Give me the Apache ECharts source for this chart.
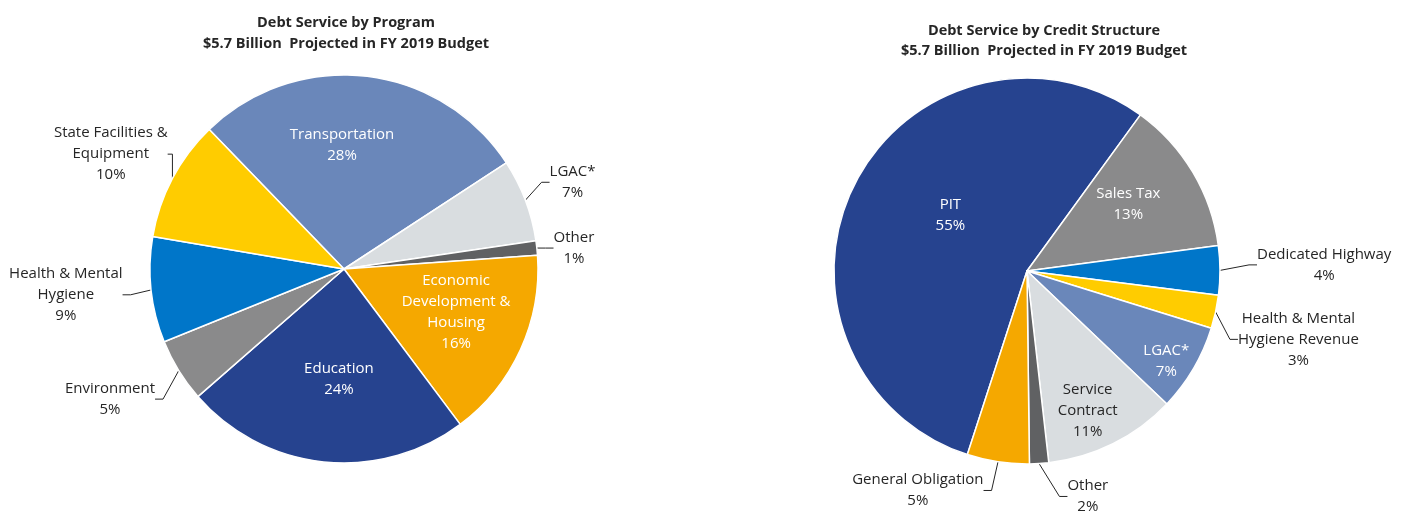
<!DOCTYPE html>
<html>
<head>
<meta charset="utf-8">
<script src="https://cdn.jsdelivr.net/npm/echarts@6/dist/echarts.min.js"></script>
<style>
  html, body { margin: 0; padding: 0; background: #fff; }
  #chart { width: 1408px; height: 514px; }
</style>
</head>
<body>
<div id="chart"></div>
<script>
// share of debt service, percent
const programNames = ['Transportation', 'LGAC*', 'Other', 'Economic\nDevelopment &\nHousing', 'Education', 'Environment', 'Health & Mental\nHygiene', 'State Facilities &\nEquipment'];
const programValues = [28.0, 6.9, 1.2, 15.9, 23.8, 5.3, 8.8, 10.1];
const programColors = ['#6a87ba', '#d9dde0', '#606163', '#f5a800', '#26438f', '#8a8a8b', '#0076c9', '#ffcc00'];
const programInside = [true, false, false, true, true, false, false, false];

const creditNames = ['PIT', 'Sales Tax', 'Dedicated Highway', 'Health & Mental\nHygiene Revenue', 'LGAC*', 'Service\nContract', 'Other', 'General Obligation'];
const creditValues = [55.0, 12.9, 4.1, 2.8, 7.3, 11.1, 1.6, 5.2];
const creditColors = ['#26438f', '#8a8a8b', '#0076c9', '#ffcc00', '#6a87ba', '#d9dde0', '#606163', '#f5a800'];
const creditInside = [true, true, false, false, true, true, false, false];

// label placement: distance from centre (x radius) and turn from the slice middle (deg)
const programLabelR = [0.64, 1.26, 1.19, 0.62, 0.57, 1.38, 1.44, 1.34];
const programLabelTurn = [7.3, 0, -1, 3.3, 3.4, -2.5, -0.9, 1.6];
const creditLabelR = [0.49, 0.63, 1.54, 1.45, 0.86, 0.79, 1.21, 1.27];
const creditLabelTurn = [-8.9, 2.8, 1, -1.9, -2.5, -3, 11.5, -17.8];

const FONT = '"Open Sans", Lato, sans-serif';
const TEXT = '#262626';

function labelPlacer(values, start, cx, cy, r, radii, turns) {
  const total = values.reduce((a, b) => a + b, 0);
  const mids = [];
  let a = start;
  values.forEach(v => {
    const span = v / total * 360;
    mids.push(a - span / 2);
    a -= span;
  });
  return function (p) {
    const i = p.dataIndex;
    const ang = (mids[i] + turns[i]) * Math.PI / 180;
    const d = radii[i] * r;
    return {
      x: cx + d * Math.cos(ang),
      y: cy - d * Math.sin(ang),
      align: 'center',
      verticalAlign: 'middle'
    };
  };
}

function buildData(names, values, colors, inside, darkInside) {
  return names.map((n, i) => ({
    name: n,
    value: values[i],
    itemStyle: { color: colors[i] },
    label: { color: inside[i] && !darkInside[i] ? '#fff' : TEXT },
    labelLine: { show: !inside[i] }
  }));
}

function pieSeries(data, cx, cy, r, start, radii, turns) {
  return {
    type: 'pie',
    center: [cx, cy],
    radius: [0, r],
    startAngle: start,
    clockwise: true,
    avoidLabelOverlap: false,
    percentPrecision: 0,
    animation: false,
    itemStyle: { borderColor: '#fff', borderWidth: 1.5 },
    label: {
      show: true,
      position: 'outside',
      formatter: '{b}\n{d}%',
      fontFamily: FONT,
      fontSize: 15,
      lineHeight: 21,
      align: 'center'
    },
    labelLine: {
      length: 10,
      length2: 8,
      smooth: false,
      lineStyle: { color: TEXT, width: 1 }
    },
    emphasis: { disabled: true },
    labelLayout: labelPlacer(data.map(d => d.value), start, cx, cy, r, radii, turns),
    data: data
  };
}

const chart = echarts.init(document.getElementById('chart'), null, { renderer: 'canvas' });

chart.setOption({
  backgroundColor: '#fff',
  animation: false,
  title: [
    {
      text: 'Debt Service by Program\n$5.7 Billion  Projected in FY 2019 Budget',
      left: 341,
      top: 7,
      textAlign: 'center',
      textStyle: { fontFamily: FONT, fontSize: 14.5, fontWeight: 'bold', color: TEXT, lineHeight: 21 }
    },
    {
      text: 'Debt Service by Credit Structure\n$5.7 Billion  Projected in FY 2019 Budget',
      left: 1039,
      top: 16,
      textAlign: 'center',
      textStyle: { fontFamily: FONT, fontSize: 14.5, fontWeight: 'bold', color: TEXT, lineHeight: 20 }
    }
  ],
  series: [
    pieSeries(buildData(programNames, programValues, programColors, programInside, programNames.map(() => false)),
      344, 269, 194, 134, programLabelR, programLabelTurn),
    pieSeries(buildData(creditNames, creditValues, creditColors, creditInside, creditNames.map(n => n === 'Service\nContract')),
      1027, 271, 193, 252, creditLabelR, creditLabelTurn)
  ]
});
</script>
</body>
</html>
